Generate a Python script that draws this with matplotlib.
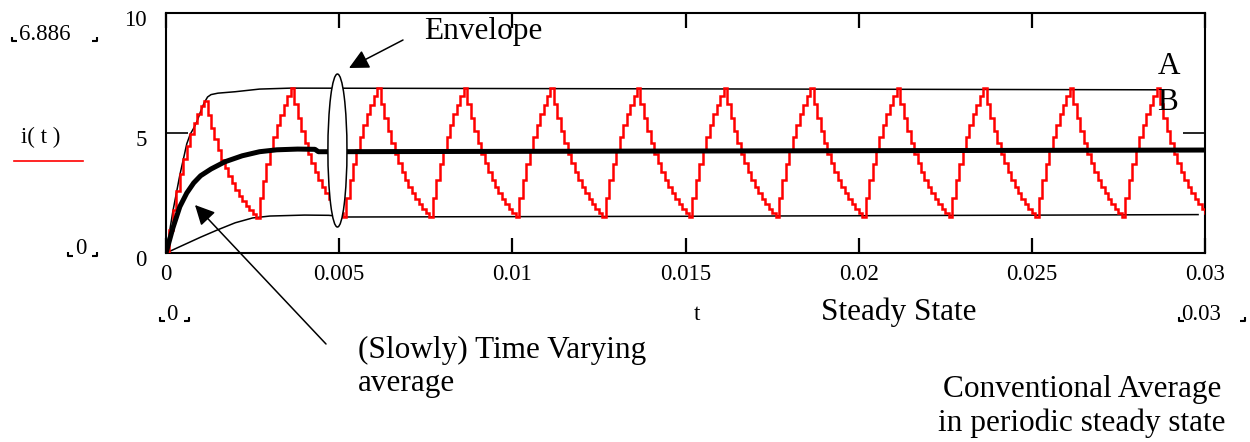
import numpy as np
import matplotlib
matplotlib.use("Agg")
import matplotlib.pyplot as plt
import matplotlib.transforms as mtransforms
from matplotlib.patches import Ellipse, FancyArrowPatch
from matplotlib.lines import Line2D

plt.rcParams['font.family'] = ['Liberation Serif', 'DejaVu Serif']

# ---------------- data ----------------
t_step = 0.0001  # sampling step of the simulated current (s)

# i(t): stepped current waveform, one row per switching interval
i_values = [
    # start-up rise
    0.00, 0.95, 1.80, 2.58, 3.28, 3.90, 4.45, 4.95, 5.40, 5.80, 6.12, 6.35,
    # first fall
    5.76, 5.22, 4.73, 4.29, 3.89, 3.53, 3.20, 2.90, 2.63, 2.39, 2.17, 1.97, 1.79, 1.62, 1.47,
    # first full rise
    2.28, 3.02, 3.69, 4.28, 4.83, 5.32, 5.77, 6.17, 6.53, 6.886,
    # periodic steady state: fall (15) + rise (10)
    6.22, 5.62, 5.08, 4.59, 4.14, 3.74, 3.38, 3.05, 2.76, 2.49, 2.25, 2.03, 1.84, 1.66, 1.50,
    2.31, 3.04, 3.70, 4.30, 4.84, 5.34, 5.78, 6.18, 6.54, 6.886,
    6.22, 5.62, 5.08, 4.59, 4.14, 3.74, 3.38, 3.05, 2.76, 2.49, 2.25, 2.03, 1.84, 1.66, 1.50,
    2.31, 3.04, 3.70, 4.30, 4.84, 5.34, 5.78, 6.18, 6.54, 6.886,
    6.22, 5.62, 5.08, 4.59, 4.14, 3.74, 3.38, 3.05, 2.76, 2.49, 2.25, 2.03, 1.84, 1.66, 1.50,
    2.31, 3.04, 3.70, 4.30, 4.84, 5.34, 5.78, 6.18, 6.54, 6.886,
    6.22, 5.62, 5.08, 4.59, 4.14, 3.74, 3.38, 3.05, 2.76, 2.49, 2.25, 2.03, 1.84, 1.66, 1.50,
    2.31, 3.04, 3.70, 4.30, 4.84, 5.34, 5.78, 6.18, 6.54, 6.886,
    6.22, 5.62, 5.08, 4.59, 4.14, 3.74, 3.38, 3.05, 2.76, 2.49, 2.25, 2.03, 1.84, 1.66, 1.50,
    2.31, 3.04, 3.70, 4.30, 4.84, 5.34, 5.78, 6.18, 6.54, 6.886,
    6.22, 5.62, 5.08, 4.59, 4.14, 3.74, 3.38, 3.05, 2.76, 2.49, 2.25, 2.03, 1.84, 1.66, 1.50,
    2.31, 3.04, 3.70, 4.30, 4.84, 5.34, 5.78, 6.18, 6.54, 6.886,
    6.22, 5.62, 5.08, 4.59, 4.14, 3.74, 3.38, 3.05, 2.76, 2.49, 2.25, 2.03, 1.84, 1.66, 1.50,
    2.31, 3.04, 3.70, 4.30, 4.84, 5.34, 5.78, 6.18, 6.54, 6.886,
    6.22, 5.62, 5.08, 4.59, 4.14, 3.74, 3.38, 3.05, 2.76, 2.49, 2.25, 2.03, 1.84, 1.66, 1.50,
    2.31, 3.04, 3.70, 4.30, 4.84, 5.34, 5.78, 6.18, 6.54, 6.886,
    6.22, 5.62, 5.08, 4.59, 4.14, 3.74, 3.38, 3.05, 2.76, 2.49, 2.25, 2.03, 1.84, 1.66, 1.50,
    2.31, 3.04, 3.70, 4.30, 4.84, 5.34, 5.78, 6.18, 6.54, 6.886,
    6.22, 5.62, 5.08, 4.59, 4.14, 3.74, 3.38, 3.05, 2.76, 2.49, 2.25, 2.03, 1.84, 1.66, 1.50,
    2.31, 3.04, 3.70, 4.30, 4.84, 5.34, 5.78, 6.18, 6.54, 6.886,
    # last fall up to t = 0.03
    6.22, 5.62, 5.08, 4.59, 4.14, 3.74, 3.38, 3.05, 2.76, 2.49, 2.25, 2.03, 1.84, 1.66,
]

# upper envelope
env_up_t = [0, 0.0002, 0.0004, 0.0006, 0.0007, 0.0008, 0.0009, 0.0010, 0.0011,
            0.0012, 0.0013, 0.0015, 0.0020, 0.0027, 0.0036, 0.0286]
env_up_i = [0, 1.75, 3.25, 4.55, 4.95, 5.20, 5.50, 5.90, 6.25,
            6.50, 6.60, 6.66, 6.72, 6.83, 6.87, 6.80]

# lower envelope
env_lo_t = [0, 0.0005, 0.0010, 0.0015, 0.0020, 0.0025, 0.0030, 0.0040, 0.0047,
            0.0052, 0.0150, 0.0298]
env_lo_i = [0, 0.33, 0.66, 0.97, 1.26, 1.46, 1.54, 1.58, 1.57,
            1.50, 1.53, 1.60]

# (slowly) time varying average
avg_t = [0, 0.0002, 0.0004, 0.0006, 0.0008, 0.0010, 0.0013, 0.0017, 0.0022,
         0.0027, 0.0032, 0.0038, 0.0043, 0.0044, 0.0300]
avg_i = [0, 1.05, 1.93, 2.50, 2.92, 3.22, 3.50, 3.80, 4.05,
         4.22, 4.30, 4.33, 4.32, 4.22, 4.29]

x_ticks = [0, 0.005, 0.01, 0.015, 0.02, 0.025, 0.03]
x_tick_labels = ["0", "0.005", "0.01", "0.015", "0.02", "0.025", "0.03"]
y_ticks = [0, 5, 10]
y_tick_labels = ["0", "5", "10"]

# ---------------- figure ----------------
W, H = 1250, 442
fig = plt.figure(figsize=(W / 100, H / 100), dpi=100)


def P(x, y):
    return (x / W, 1 - y / H)


ax = fig.add_axes([166 / W, 1 - 253 / H, (1205 - 166) / W, (253 - 13) / H])
ax.set_xlim(0, 0.03)
ax.set_ylim(0, 10)

t = np.arange(len(i_values)) * t_step
ax.plot(t, i_values, color='#ff0000', lw=1.8, drawstyle='steps-post',
        zorder=3, solid_joinstyle='miter')
ax.plot(env_up_t, env_up_i, color='black', lw=1.1, zorder=2)
ax.plot(env_lo_t, env_lo_i, color='black', lw=1.1, zorder=2)
ax.plot(avg_t, avg_i, color='black', lw=3.6, zorder=4, solid_capstyle='butt')

ell = Ellipse((0.00495, 4.27), 0.00055, 6.375, facecolor='white',
              edgecolor='black', lw=1.1, zorder=6, clip_on=False)
ax.add_patch(ell)

for s in ax.spines.values():
    s.set_linewidth(1.5)

ax.set_xticks(x_ticks)
ax.set_xticklabels(x_tick_labels)
ax.set_yticks(y_ticks)
ax.set_yticklabels(y_tick_labels)
ax.tick_params(axis='x', direction='in', length=11, width=1.6, top=True,
               bottom=True, labelsize=16.5, pad=8)
ax.tick_params(axis='y', direction='in', length=16, width=1.2, left=True,
               right=True, labelsize=16.5, pad=14)
off = mtransforms.ScaledTranslation(0, -5 / 100, fig.dpi_scale_trans)
for lab in ax.get_yticklabels():
    lab.set_transform(lab.get_transform() + off)

# ---------------- annotations ----------------
big = 22.5
fig.text(*P(483, 32), "Envelope", fontsize=big, ha='center', va='center')
fig.text(*P(1169, 67), "A", fontsize=big, ha='center', va='center')
fig.text(*P(1168, 103), "B", fontsize=big, ha='center', va='center')
fig.text(*P(899, 312), "Steady State", fontsize=big, ha='center', va='center')
fig.text(*P(358, 350), "(Slowly) Time Varying", fontsize=big, ha='left', va='center')
fig.text(*P(358, 384), "average", fontsize=big, ha='left', va='center')
fig.text(*P(1082, 390), "Conventional Average", fontsize=big, ha='center', va='center')
fig.text(*P(1082, 423), "in periodic steady state", fontsize=big, ha='center', va='center')

small = 16.5
fig.text(*P(697, 315), "t", fontsize=small, ha='center', va='center')
fig.text(*P(41, 137), "i( t )", fontsize=small, ha='center', va='center')
fig.add_artist(Line2D([14 / W, 83 / W], [1 - 161 / H, 1 - 161 / H],
                      color='#ff0000', lw=1.2))

fig.text(*P(45, 34), "6.886", fontsize=small, ha='center', va='center')
fig.text(*P(81, 249), "0", fontsize=small, ha='center', va='center')
fig.text(*P(172, 314), "0", fontsize=small, ha='center', va='center')
fig.text(*P(1201, 314), "0.03", fontsize=small, ha='center', va='center')


def corner(x0, y0, side):
    """Mathcad range marker: small L-shaped bracket (pixel coords)."""
    if side == 'left':
        xs = [x0, x0, x0 + 5]
    else:
        xs = [x0 - 5, x0, x0]
    ys = [y0 - 4, y0, y0] if side == 'left' else [y0, y0, y0 - 4]
    fig.add_artist(Line2D([v / W for v in xs], [1 - v / H for v in ys],
                          color='black', lw=1.5, solid_capstyle='butt'))


corner(12, 41, 'left'); corner(97, 41, 'right')
corner(68, 256, 'left'); corner(97, 256, 'right')
corner(160, 321, 'left'); corner(189, 321, 'right')
corner(1179, 321, 'left'); corner(1245, 321, 'right')

arr_kw = dict(arrowstyle='-|>,head_length=0.6,head_width=0.3', mutation_scale=20,
              color='black', lw=1.1, shrinkA=0, shrinkB=0,
              transform=fig.transFigure)
fig.add_artist(FancyArrowPatch(P(403, 40), P(349, 68), **arr_kw))
fig.add_artist(FancyArrowPatch(P(326, 344), P(195, 205), **arr_kw))

fig.savefig("out.png", dpi=100)
